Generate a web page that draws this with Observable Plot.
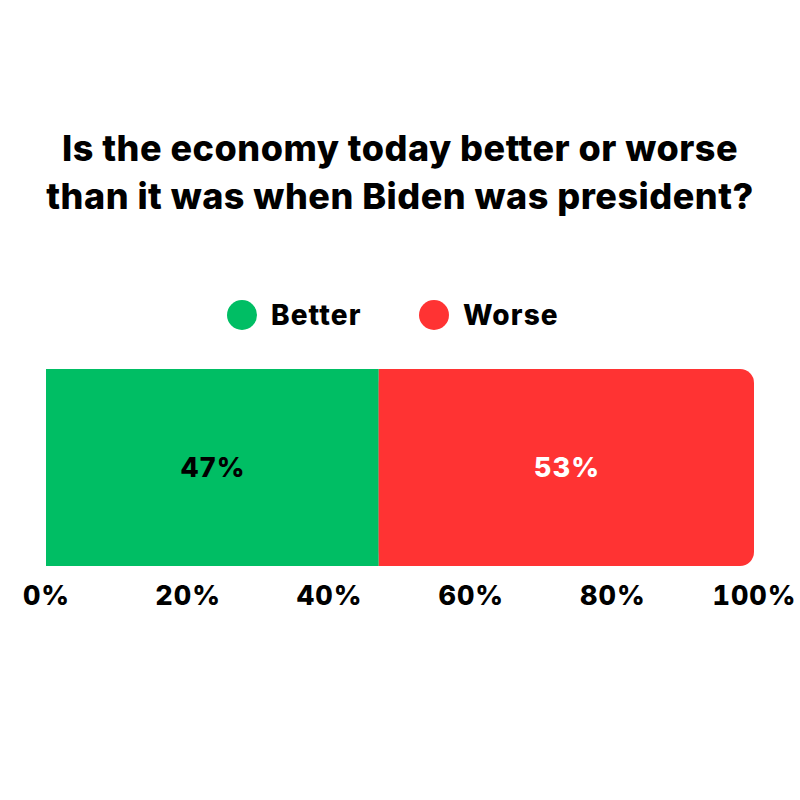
<!DOCTYPE html>
<html>
<head>
<meta charset="utf-8">
<script src="https://cdn.jsdelivr.net/npm/d3@7"></script>
<script src="https://cdn.jsdelivr.net/npm/@observablehq/plot@0.6"></script>
<style>
  html, body { margin: 0; padding: 0; background: #fff; }
  #wrap { position: relative; width: 800px; height: 800px; font-family: Inter, "Open Sans", sans-serif; color: #000; }
  #title { position: absolute; left: 0; top: 124px; width: 800px; text-align: center; font-size: 36px; font-weight: 800; line-height: 48px; letter-spacing: 0.5px; }
  #legend { position: absolute; top: 298px; left: 0; width: 800px; height: 34px; }
  .item { position: absolute; top: 0; display: flex; align-items: center; height: 34px; font-size: 28px; font-weight: 800; letter-spacing: 1.1px; }
  .dot { width: 30px; height: 30px; border-radius: 50%; margin-right: 14px; }
  #chart { position: absolute; left: 0; top: 360px; }
  #chart text { letter-spacing: 1px; }
</style>
</head>
<body>
<div id="wrap">
  <div id="title">Is the economy today better or worse<br>than it was when Biden was president?</div>
  <div id="legend"></div>
  <div id="chart"></div>
</div>
<script>
const categories = ["Better", "Worse"];
const values = [47, 53];
const colors = ["#00BE64", "#FF3333"];
const labelColors = ["#000000", "#FFFFFF"];
const ticks = [0, 20, 40, 60, 80, 100];

const ends = d3.cumsum(values);
const rows = categories.map((c, i) => ({
  key: c, value: values[i], x1: ends[i] - values[i], x2: ends[i],
  fill: colors[i], labelColor: labelColors[i], row: "all"
}));

// legend
const legend = document.getElementById("legend");
const legendX = [227, 419];
categories.forEach((c, i) => {
  const it = document.createElement("div");
  it.className = "item";
  it.style.left = legendX[i] + "px";
  it.innerHTML = `<span class="dot" style="background:${colors[i]}"></span><span>${c}</span>`;
  legend.appendChild(it);
});

const last = rows.filter(d => d.key === "Worse");
const first = rows.filter(d => d.key !== "Worse");

const chart = Plot.plot({
  width: 800,
  height: 260,
  marginLeft: 46,
  marginRight: 46,
  marginTop: 9,
  marginBottom: 54,
  style: { fontFamily: "Inter, 'Open Sans', sans-serif", fontSize: "27px", fontWeight: 800, color: "#000", background: "transparent" },
  x: { domain: [0, 100], axis: null },
  y: { domain: ["all"], axis: null, padding: 0 },
  marks: [
    Plot.ruleX([100], { y: () => "all", stroke: "#cccccc", strokeWidth: 1 }),
    Plot.barX(first, { x1: "x1", x2: "x2", y: "row", fill: d => d.fill }),
    Plot.barX(last, { x1: "x1", x2: "x2", y: "row", fill: d => d.fill, rx: 14 }),
    Plot.barX(last, { x1: "x1", x2: "x2", y: "row", fill: d => d.fill, insetRight: 20 }),
    Plot.text(rows, { x: d => (d.x1 + d.x2) / 2, y: "row", text: d => d.value + "%", fill: d => d.labelColor, fontSize: 27, fontWeight: 800 }),
    Plot.axisX(ticks, { tickSize: 0, tickPadding: 19, tickFormat: d => d + "%", fontSize: 27, fontWeight: 800, fill: "#000" })
  ]
});
document.getElementById("chart").appendChild(chart);
</script>
</body>
</html>
